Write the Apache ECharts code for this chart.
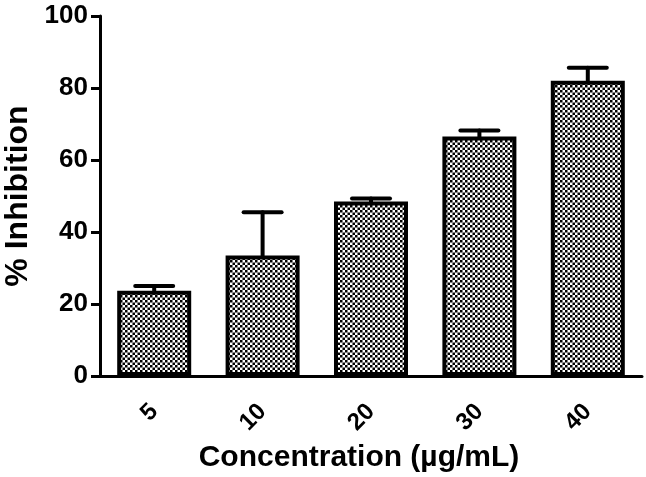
<!DOCTYPE html>
<html>
<head>
<meta charset="utf-8">
<script src="https://cdn.jsdelivr.net/npm/echarts@6/dist/echarts.min.js"></script>
<style>
html,body{margin:0;padding:0;background:#fff;}
#c{width:646px;height:477px;}
</style>
</head>
<body>
<div id="c"></div>
<script>
var categories = ['5', '10', '20', '30', '40'];
var inhibition = [23.7, 33.5, 48.5, 66.5, 82];
var errorUp = [1.3, 12.0, 0.8, 1.7, 3.6];
var yTicks = [0, 20, 40, 60, 80, 100];

var tile = document.createElement('canvas');
tile.width = 5; tile.height = 5;
var tc = tile.getContext('2d');
tc.fillStyle = '#ffffff'; tc.fillRect(0, 0, 5, 5);
tc.fillStyle = '#000000';
tc.fillRect(0, 0, 2.5, 2.5);
tc.fillRect(2.5, 2.5, 2.5, 2.5);

var chart = echarts.init(document.getElementById('c'), null, {renderer: 'canvas'});
var font = 'Liberation Sans, Arial, Helvetica, sans-serif';

var errData = categories.map(function (c, i) { return [i, inhibition[i], inhibition[i] + errorUp[i]]; });

chart.setOption({
  animation: false,
  backgroundColor: '#ffffff',
  grid: {left: 100, right: 4, top: 16, bottom: 101, containLabel: false, outerBoundsMode: 'none'},
  xAxis: {
    type: 'category',
    data: categories,
    boundaryGap: true,
    name: 'Concentration (µg/mL)',
    nameLocation: 'middle',
    nameGap: 67,
    nameTextStyle: {color: '#000', fontFamily: font, fontWeight: 'bold', fontSize: 30, verticalAlign: 'top', padding: [0, 24, 0, 0]},
    axisLine: {lineStyle: {color: '#000', width: 3}},
    axisTick: {alignWithLabel: true, length: 9, lineStyle: {color: '#000', width: 3}},
    axisLabel: {rotate: 45, color: '#000', fontFamily: font, fontWeight: 'bold', fontSize: 24, margin: 32}
  },
  yAxis: {
    type: 'value',
    min: 0, max: 100, interval: 20,
    name: '% Inhibition',
    nameLocation: 'middle',
    nameGap: 66,
    nameTextStyle: {color: '#000', fontFamily: font, fontWeight: 'bold', fontSize: 32},
    axisLine: {show: true, lineStyle: {color: '#000', width: 3}},
    axisTick: {show: true, length: 9, lineStyle: {color: '#000', width: 3}},
    splitLine: {show: false},
    axisLabel: {color: '#000', fontFamily: font, fontWeight: 'bold', fontSize: 26, margin: 12,
      formatter: function (v) { return yTicks.indexOf(v) >= 0 ? String(v) : ''; }}
  },
  series: [
    {
      type: 'bar',
      data: inhibition,
      barWidth: 74,
      itemStyle: {
        color: {image: tile, repeat: 'repeat'},
        borderColor: '#000',
        borderWidth: 4
      },
      z: 2
    },
    {
      type: 'custom',
      data: errData,
      z: 3,
      renderItem: function (params, api) {
        var x = api.value(0);
        var lo = api.coord([x, api.value(1)]);
        var hi = api.coord([x, api.value(2)]);
        var half = 19;
        var style = {stroke: '#000', lineWidth: 4, lineCap: 'round'};
        return {
          type: 'group',
          children: [
            {type: 'line', shape: {x1: lo[0], y1: lo[1], x2: hi[0], y2: hi[1]}, style: style},
            {type: 'line', shape: {x1: hi[0] - half, y1: hi[1], x2: hi[0] + half, y2: hi[1]}, style: style}
          ]
        };
      }
    }
  ]
});
</script>
</body>
</html>
